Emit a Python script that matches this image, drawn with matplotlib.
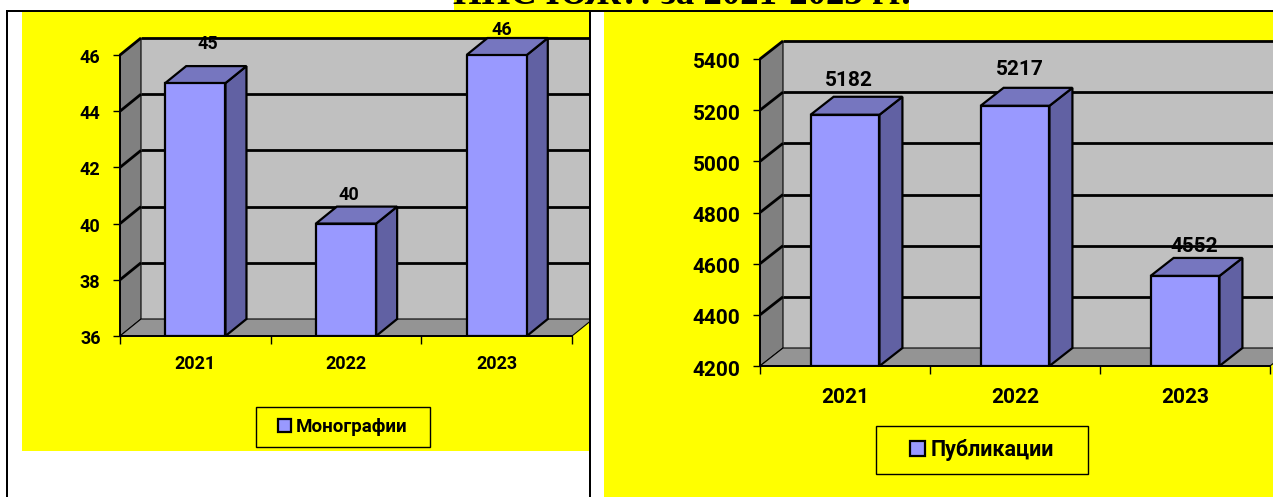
import matplotlib
matplotlib.use("Agg")
import matplotlib.pyplot as plt
from matplotlib.patches import Polygon, Rectangle
from matplotlib.transforms import IdentityTransform, Affine2D

W, H = 1273, 497

years = ["2021", "2022", "2023"]
monographs = [45, 40, 46]
publications = [5182, 5217, 4552]
mono_ticks = [36, 38, 40, 42, 44, 46]
pub_ticks = [4200, 4400, 4600, 4800, 5000, 5200, 5400]

FRONT = "#9999FF"
TOP = "#7676BF"
SIDE = "#6161A3"
BACK = "#C0C0C0"
WALL = "#808080"
FLOOR = "#949494"
YELLOW = "#FFFF00"

plt.rcParams["font.family"] = ["Roboto", "Noto Sans", "DejaVu Sans"]
plt.rcParams["font.weight"] = "bold"

fig = plt.figure(figsize=(W / 100, H / 100), dpi=100, facecolor="white")


def px_rect(x0, y0, x1, y1, **kw):
    # rectangle given in picture pixels, y going down
    r = Rectangle((x0, H - y1), x1 - x0, y1 - y0, transform=IdentityTransform(), **kw)
    fig.add_artist(r)
    return r


def chart(box, clip_x, depth, values, ticks, name, label_off, legend_box, fs, width, xpad, ypad, yshift):
    x0, y0, x1, y1 = box
    ax = fig.add_axes([x0 / W, 1 - y1 / H, (x1 - x0) / W, (y1 - y0) / H])
    ax.set_xlim(0, 3)
    ax.set_ylim(ticks[0], ticks[-1])
    ax.patch.set_visible(False)
    dx, dy = depth
    clip = Rectangle((0, 0), clip_x, H, transform=IdentityTransform())

    def proj(x, y, d=0):
        px, py = ax.transData.transform((x, y))
        return (px + d * dx, py + d * dy)

    def face(points, color, z, lw=1.2):
        p = Polygon([proj(*q) for q in points], closed=True, facecolor=color, edgecolor="black",
                    linewidth=lw, transform=IdentityTransform(), zorder=z, clip_on=True)
        ax.add_patch(p)
        p.set_clip_path(clip)

    def line(a, b, z=2, lw=2):
        pts = [proj(*a), proj(*b)]
        l, = ax.plot([pts[0][0], pts[1][0]], [pts[0][1], pts[1][1]], color="black", lw=lw,
                     transform=IdentityTransform(), zorder=z, solid_capstyle="butt")
        l.set_clip_path(clip)

    lo, hi = ticks[0], ticks[-1]
    back = [(0, lo, 1), (4, lo, 1), (4, hi, 1), (0, hi, 1)]
    p = Polygon([proj(*q) for q in back], facecolor=BACK, edgecolor="none",
                transform=IdentityTransform(), zorder=1)
    ax.add_patch(p)
    p.set_clip_path(clip)
    face([(0, lo, 0), (0, hi, 0), (0, hi, 1), (0, lo, 1)], WALL, 1.5, 0.8)
    face([(0, lo, 0), (3, lo, 0), (3, lo, 1), (0, lo, 1)], FLOOR, 1.5, 0.8)
    line((3, lo, 1), (4, lo, 1), 1.6, 0.8)
    for t in ticks[1:]:
        line((0, t, 0), (0, t, 1))
        line((0, t, 1), (4, t, 1))

    xs = [i + 0.5 for i in range(len(values))]
    bars = ax.bar(xs, [v - lo for v in values], width, bottom=lo, color=FRONT, edgecolor="black",
                  linewidth=1.6, zorder=4, label=name)
    for b, v in zip(bars, values):
        l, r = b.get_x(), b.get_x() + b.get_width()
        face([(r, lo, 0), (r, v, 0), (r, v, 1), (r, lo, 1)], SIDE, 3.5, 1.6)
        face([(l, v, 0), (r, v, 0), (r, v, 1), (l, v, 1)], TOP, 3.5, 1.6)

    for x, v, off in zip(xs, values, label_off):
        ax.annotate(str(v), (x, v), xytext=off, textcoords="offset pixels", ha="center", va="center",
                    fontsize=fs, fontweight="bold", color="black", zorder=6, annotation_clip=False)

    for s in ("top", "right"):
        ax.spines[s].set_visible(False)
    for s in ("left", "bottom"):
        ax.spines[s].set_linewidth(1.4)
        ax.spines[s].set_zorder(5)
    ax.set_yticks(ticks)
    ax.set_xticks([0, 1, 2, 3])
    ax.set_xticklabels([])
    ax.set_xticks(xs, minor=True)
    ax.set_xticklabels(years, minor=True)
    ax.tick_params(axis="x", which="minor", length=0, pad=xpad, labelsize=fs)
    ax.tick_params(axis="x", which="major", length=6, width=1, direction="out")
    ax.tick_params(axis="y", length=5, width=1, pad=ypad, labelsize=fs)
    for t in ax.get_yticklabels():
        t.set_transform(t.get_transform() + Affine2D().translate(0, -yshift))

    lx0, ly0, lx1, ly1 = legend_box
    px_rect(lx0, ly0, lx1, ly1, facecolor=YELLOW, edgecolor="black", linewidth=1, zorder=7)
    h = [Rectangle((0, 0), 1, 1, facecolor=FRONT, edgecolor="black", linewidth=1.6)]
    leg = fig.legend(h, [name], loc="center", frameon=False, fontsize=fs + 0.5,
                     bbox_to_anchor=((lx0 + lx1) / 2 / W, 1 - (ly0 + ly1) / 2 / H),
                     handlelength=0.7, handleheight=0.7, handletextpad=0.25, borderpad=0)
    leg.set_zorder(8)
    return ax


# yellow chart areas
px_rect(22, 11, 589, 451, facecolor=YELLOW, edgecolor="none", zorder=0)
px_rect(604, 11, W, H, facecolor=YELLOW, edgecolor="none", zorder=0)

chart((120, 55, 572, 336), 589, (21, 17), monographs, mono_ticks, "Монографии",
      [(12, 39), (3, 29), (5, 25)], (256, 407, 430, 447), 13, 0.4, 14, 9, 1)
chart((760, 59, 1270, 366), W, (23, 18), publications, pub_ticks, "Публикации",
      [(4, 34), (5, 36), (9, 29)], (876, 426, 1088, 474), 15, 0.405, 16, 9, 2)

# table frame
for (a, b, c, d) in [(6, 10, W, 12), (6, 10, 8, H), (589, 10, 591, H)]:
    px_rect(a, b, c, d, facecolor="black", edgecolor="none", zorder=20)

# heading, cut off by the top edge
px_rect(454, 0, 909, 10, facecolor=YELLOW, edgecolor="none", zorder=9)
fig.text(682 / W, 1 - 4 / H, "ННС ЮЖ?: за 2021-2023 гг.", ha="center", va="baseline",
         family=["Liberation Serif"], fontsize=26.5, fontweight="bold", color="black", zorder=10)

fig.savefig("out.png", dpi=100)
